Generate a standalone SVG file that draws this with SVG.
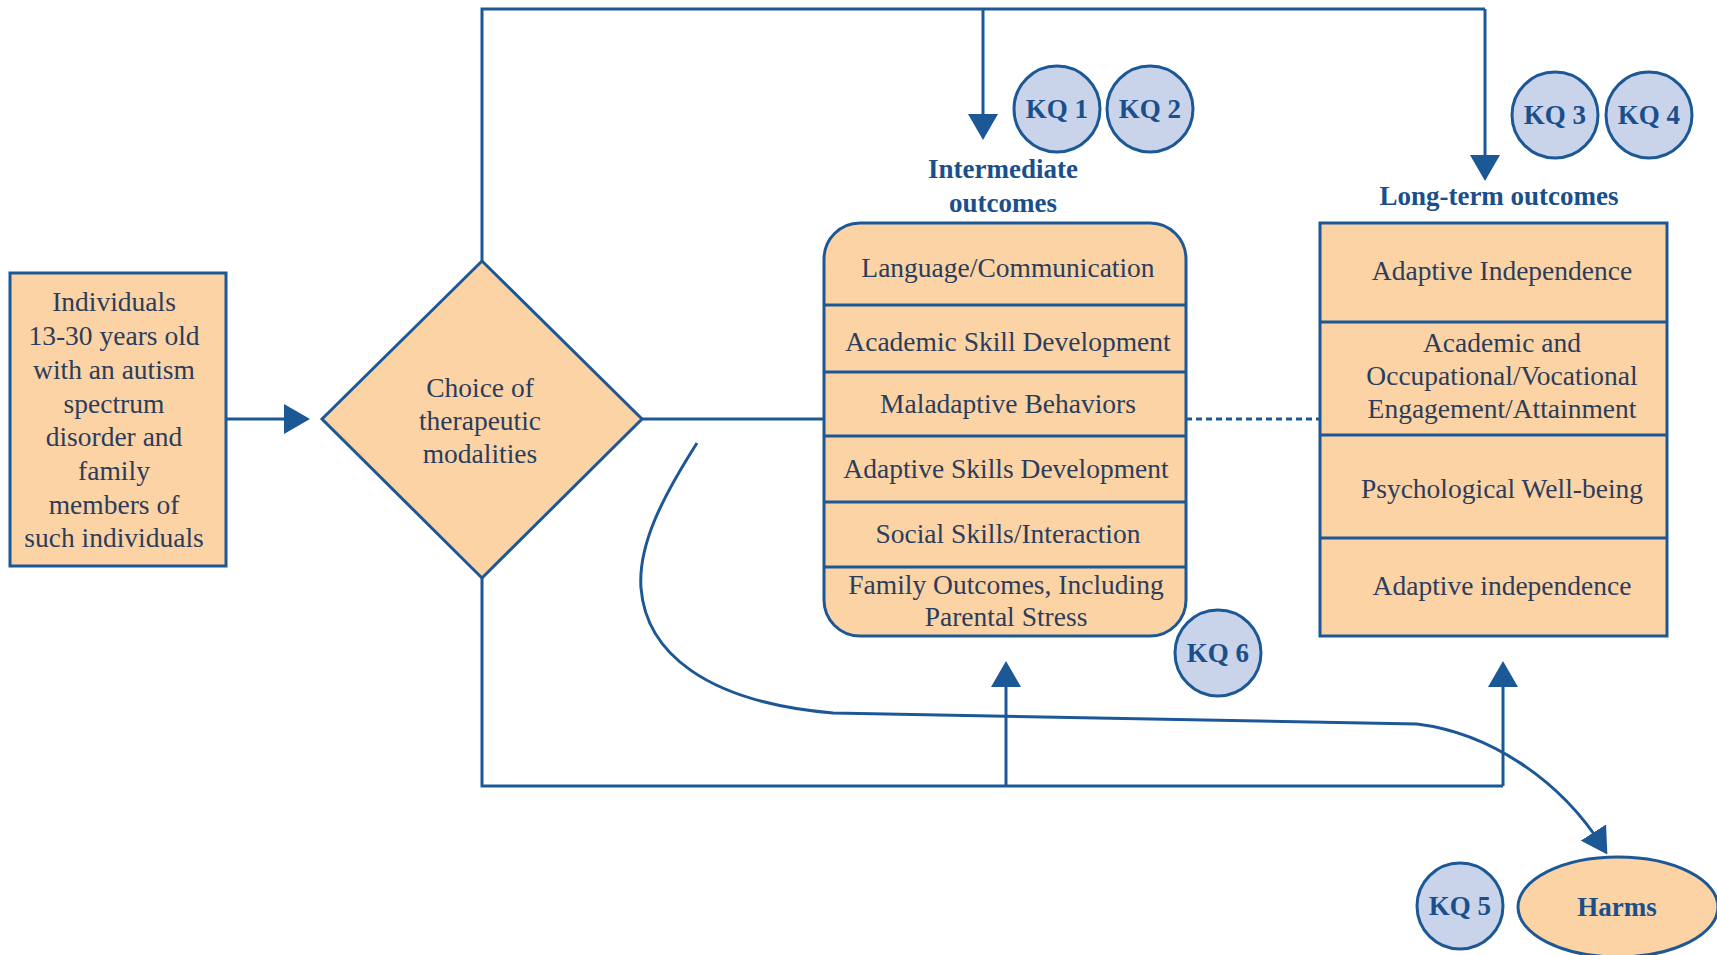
<svg xmlns="http://www.w3.org/2000/svg" width="1717" height="955" viewBox="0 0 1717 955">
<style>
.ln{fill:none;stroke:#1d5896;stroke-width:3}
.box{fill:#fcd3a5;stroke:#1d5896;stroke-width:3}
.kq{fill:#c9d4ea;stroke:#1d5896;stroke-width:3}
.t{font-family:"Liberation Serif","Times New Roman",serif;font-size:27.5px;fill:#2b3d5b;text-anchor:middle}
.b{font-family:"Liberation Serif","Times New Roman",serif;font-size:27px;font-weight:bold;fill:#1b4f8c;text-anchor:middle}
</style>
<defs>
<marker id="arr" markerUnits="userSpaceOnUse" markerWidth="26" markerHeight="30" refX="16" refY="15" orient="auto">
<path d="M0,0 L26,15 L0,30 Z" fill="#1d5896"/>
</marker>
</defs>
<rect width="1717" height="955" fill="#ffffff"/>
<g id="connectors">
<line class="ln" x1="226" y1="419" x2="300" y2="419" marker-end="url(#arr)"/>
<polyline class="ln" points="482,261 482,9 1485,9"/>
<line class="ln" x1="983" y1="9" x2="983" y2="130" marker-end="url(#arr)"/>
<line class="ln" x1="1485" y1="9" x2="1485" y2="171" marker-end="url(#arr)"/>
<polyline class="ln" points="482,578 482,786 1503,786"/>
<line class="ln" x1="1006" y1="786" x2="1006" y2="671" marker-end="url(#arr)"/>
<line class="ln" x1="1503" y1="786" x2="1503" y2="671" marker-end="url(#arr)"/>
<line class="ln" x1="642" y1="419" x2="824" y2="419"/>
<line class="ln" x1="1186" y1="419" x2="1320" y2="419" stroke-dasharray="6 4"/>
<path class="ln" d="M697,443 C662,498 638,545 641,588 C646,652 705,702 833,713 L1417,724 C1490,733 1560,780 1602,846" marker-end="url(#arr)"/>
</g>
<g id="population">
<rect class="box" x="10" y="273" width="216" height="293"/>
<text class="t" x="114" y="311">Individuals</text>
<text class="t" x="114" y="345">13-30 years old</text>
<text class="t" x="114" y="379">with an autism</text>
<text class="t" x="114" y="413">spectrum</text>
<text class="t" x="114" y="446">disorder and</text>
<text class="t" x="114" y="480">family</text>
<text class="t" x="114" y="514">members of</text>
<text class="t" x="114" y="547">such individuals</text>
</g>
<g id="choice">
<polygon class="box" points="322,419 482,261 642,419 482,578"/>
<text class="t" x="480" y="397">Choice of</text>
<text class="t" x="480" y="430">therapeutic</text>
<text class="t" x="480" y="463">modalities</text>
</g>
<g id="intermediate">
<text class="b" x="1003" y="178">Intermediate</text>
<text class="b" x="1003" y="212">outcomes</text>
<rect class="box" x="824" y="223" width="362" height="413" rx="36" ry="36"/>
<line class="ln" x1="824" y1="305" x2="1186" y2="305"/>
<line class="ln" x1="824" y1="372" x2="1186" y2="372"/>
<line class="ln" x1="824" y1="436" x2="1186" y2="436"/>
<line class="ln" x1="824" y1="502" x2="1186" y2="502"/>
<line class="ln" x1="824" y1="567" x2="1186" y2="567"/>
<text class="t" x="1008" y="277">Language/Communication</text>
<text class="t" x="1008" y="351">Academic Skill Development</text>
<text class="t" x="1008" y="413">Maladaptive Behaviors</text>
<text class="t" x="1006" y="478">Adaptive Skills Development</text>
<text class="t" x="1008" y="543">Social Skills/Interaction</text>
<text class="t" x="1006" y="594">Family Outcomes, Including</text>
<text class="t" x="1006" y="626">Parental Stress</text>
</g>
<g id="longterm">
<text class="b" x="1499" y="205">Long-term outcomes</text>
<rect class="box" x="1320" y="223" width="347" height="413"/>
<line class="ln" x1="1320" y1="322" x2="1667" y2="322"/>
<line class="ln" x1="1320" y1="435" x2="1667" y2="435"/>
<line class="ln" x1="1320" y1="538" x2="1667" y2="538"/>
<text class="t" x="1502" y="280">Adaptive Independence</text>
<text class="t" x="1502" y="352">Academic and</text>
<text class="t" x="1502" y="385">Occupational/Vocational</text>
<text class="t" x="1502" y="418">Engagement/Attainment</text>
<text class="t" x="1502" y="498">Psychological Well-being</text>
<text class="t" x="1502" y="595">Adaptive independence</text>
</g>
<g id="harms">
<ellipse class="box" cx="1618" cy="907" rx="100" ry="50"/>
<text class="b" x="1617" y="916">Harms</text>
</g>
<g id="kq1"><circle class="kq" cx="1057" cy="109" r="43"/><text class="b" x="1057" y="118">KQ 1</text></g>
<g id="kq2"><circle class="kq" cx="1150" cy="109" r="43"/><text class="b" x="1150" y="118">KQ 2</text></g>
<g id="kq3"><circle class="kq" cx="1555" cy="115" r="43"/><text class="b" x="1555" y="124">KQ 3</text></g>
<g id="kq4"><circle class="kq" cx="1649" cy="115" r="43"/><text class="b" x="1649" y="124">KQ 4</text></g>
<g id="kq5"><circle class="kq" cx="1460" cy="906" r="43"/><text class="b" x="1460" y="915">KQ 5</text></g>
<g id="kq6"><circle class="kq" cx="1218" cy="653" r="43"/><text class="b" x="1218" y="662">KQ 6</text></g>
</svg>
